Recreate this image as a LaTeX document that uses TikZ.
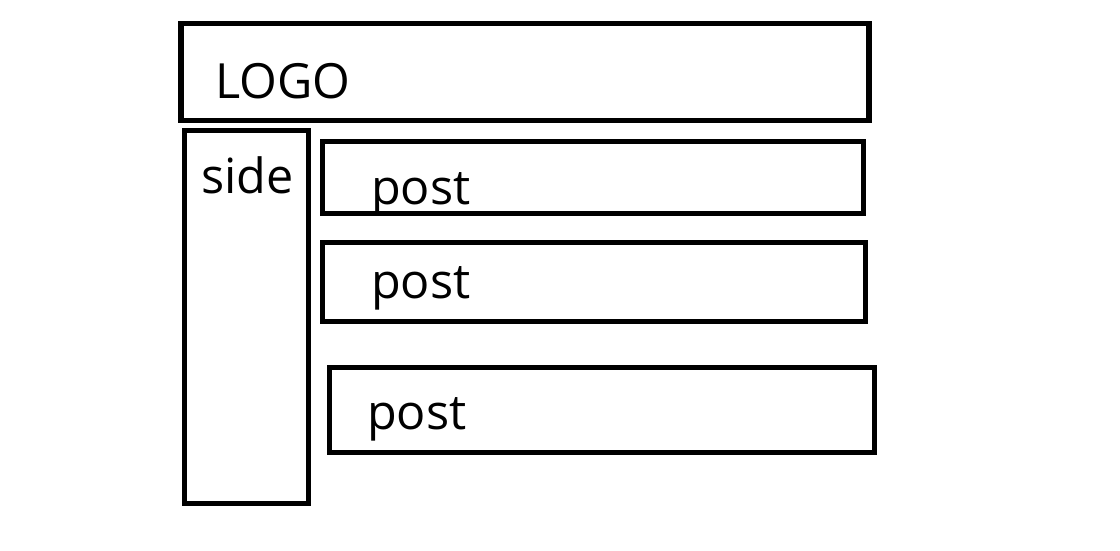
\documentclass[tikz,border=0pt]{standalone}
\usepackage{fontspec}
\setmainfont{Open Sans}
\begin{document}
\begin{tikzpicture}[x=1pt,y=-1pt,
  box/.style={draw=black,line width=5.5pt,inner sep=0pt,rectangle},
  lbl/.style={anchor=base west,inner sep=0pt,font=\fontsize{48.5}{52}\selectfont}]
\useasboundingbox (0,0) rectangle (1120,551);
\fill[white] (0,0) rectangle (1120,551);
\node[box,minimum width=688pt,minimum height=97pt] (logo) at (524.75,72) {};
\node[box,minimum width=124pt,minimum height=373pt] (side) at (246.5,317) {};
\node[box,minimum width=541pt,minimum height=72pt] (post1) at (593,177.5) {};
\node[box,minimum width=543pt,minimum height=79pt] (post2) at (594,282) {};
\node[box,minimum width=545pt,minimum height=85pt] (post3) at (602,410) {};
\node[lbl] (tlogo) at (215,99) {LOGO};
\node[lbl] (tside) at (201,193) {side};
\node[lbl] (tpost1) at (371,204) {post};
\node[lbl] (tpost2) at (371,298) {post};
\node[lbl] (tpost3) at (367,429) {post};
\end{tikzpicture}
\end{document}
